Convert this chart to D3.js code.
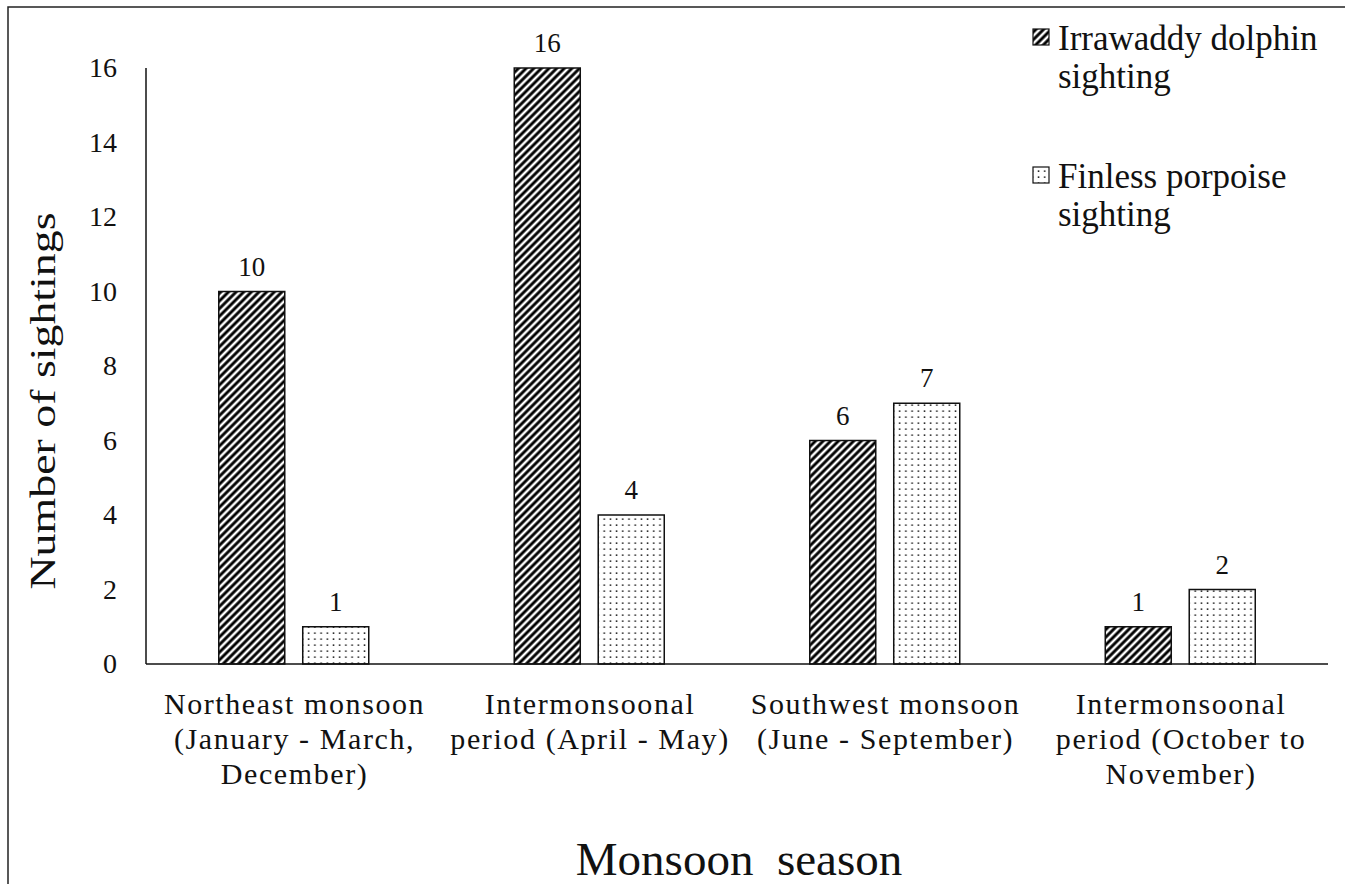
<!DOCTYPE html>
<html>
<head>
<meta charset="utf-8">
<script src="https://cdn.jsdelivr.net/npm/d3@7"></script>
<style>
body{margin:0;background:#fff}
svg{display:block}
svg text{font-family:"Liberation Serif",serif !important;fill:#111}
</style>
</head>
<body>
<svg id="chart" width="1345" height="884"></svg>
<script>
// data
const categories=[
  ["Northeast monsoon","(January - March,","December)"],
  ["Intermonsoonal","period (April - May)"],
  ["Southwest monsoon","(June - September)"],
  ["Intermonsoonal","period (October to","November)"]
]
const seriesNames=["Irrawaddy dolphin sighting","Finless porpoise sighting"]
const dolphin=[10,16,6,1]
const porpoise=[1,4,7,2]
const yTicks=[0,2,4,6,8,10,12,14,16]

const svg=d3.select("#chart")
const pL=146,pR=1328,pT=68,pB=664
const serif="Liberation Serif"

// frame of the original figure (only left & top edges visible)
svg.append("rect").attr("x",8).attr("y",7).attr("width",1400).attr("height",1000)
  .attr("fill","#fff").attr("stroke","#222").attr("stroke-width",1.5)

const defs=svg.append("defs")
const hatch=defs.append("pattern").attr("id","hatch")
  .attr("patternUnits","userSpaceOnUse").attr("width",5.4).attr("height",5.4)
  .attr("patternTransform","rotate(45)")
hatch.append("rect").attr("width",5.4).attr("height",5.4).attr("fill","#fff")
hatch.append("line").attr("x1",2.7).attr("x2",2.7).attr("y1",0).attr("y2",5.4)
  .attr("stroke","#000").attr("stroke-width",2.9)
const dots=defs.append("pattern").attr("id","dots")
  .attr("patternUnits","userSpaceOnUse").attr("width",6.2).attr("height",6)
dots.append("rect").attr("width",6.2).attr("height",6).attr("fill","#fff")
dots.append("rect").attr("x",2.4).attr("y",2.4).attr("width",1.5).attr("height",1.5).attr("fill","#111")
const fills=["url(#hatch)","url(#dots)"]

const x0=d3.scaleBand().domain(d3.range(categories.length)).range([pL,pR])
const x1=d3.scaleBand().domain([0,1]).range([0,150]).paddingInner(0.214)
const y=d3.scaleLinear().domain([0,16]).range([pB,pT])

const rows=categories.map((c,i)=>[dolphin[i],porpoise[i]])

// y axis: line + labels, no ticks
const yAxis=svg.append("g").attr("transform",`translate(${pL},0)`)
  .call(d3.axisLeft(y).tickValues(yTicks).tickSize(0).tickPadding(29))
yAxis.attr("font-family",serif).attr("font-size",28)
yAxis.select(".domain").attr("stroke","#111").attr("stroke-width",1.5).attr("d",`M0,${pT}V${pB}`)
yAxis.selectAll("text").attr("fill","#111")

// bars
const g=svg.append("g").selectAll("g").data(rows).join("g")
  .attr("transform",(d,i)=>`translate(${x0(i)+x0.bandwidth()/2-75},0)`)
g.selectAll("rect").data(d=>d).join("rect")
  .attr("x",(d,j)=>x1(j)).attr("width",x1.bandwidth())
  .attr("y",d=>y(d)).attr("height",d=>y(0)-y(d))
  .attr("fill",(d,j)=>fills[j]).attr("stroke","#111").attr("stroke-width",1.5)
g.selectAll("text").data(d=>d).join("text")
  .attr("x",(d,j)=>x1(j)+x1.bandwidth()/2).attr("y",d=>y(d)-16)
  .attr("text-anchor","middle").attr("font-family",serif).attr("font-size",27).text(d=>d)

// x baseline
svg.append("line").attr("x1",pL).attr("x2",pR).attr("y1",pB).attr("y2",pB)
  .attr("stroke","#111").attr("stroke-width",1.5)

// category labels
const cl=svg.append("g").selectAll("text").data(categories).join("text")
  .attr("text-anchor","middle").attr("font-family",serif).attr("font-size",30)
  .attr("letter-spacing",1.6)
cl.selectAll("tspan").data((d,i)=>d.map(s=>({s,i}))).join("tspan")
  .attr("x",d=>x0(d.i)+x0.bandwidth()/2+0.8)
  .attr("y",(d,k)=>714+k*35).text(d=>d.s)

// axis titles
svg.append("text").attr("x",(pL+pR)/2+2).attr("y",875).attr("text-anchor","middle")
  .attr("font-family",serif).attr("font-size",47).style("white-space","pre").text("Monsoon  season")
svg.append("text").attr("transform","translate(55,401) rotate(-90)").attr("text-anchor","middle")
  .attr("font-family",serif).attr("font-size",36).attr("textLength",377).attr("lengthAdjust","spacingAndGlyphs")
  .text("Number of sightings")

// legend
const legendY=[29,167]
const legendLines=[["Irrawaddy dolphin","sighting"],["Finless porpoise","sighting"]]
const lg=svg.append("g").selectAll("g").data(seriesNames).join("g")
lg.append("rect").attr("x",1033).attr("y",(d,i)=>legendY[i]).attr("width",16).attr("height",16)
  .attr("fill",(d,i)=>fills[i]).attr("stroke","#111").attr("stroke-width",1.2)
lg.append("text").attr("font-family",serif).attr("font-size",35).selectAll("tspan")
  .data((d,i)=>legendLines[i].map(s=>({s,i}))).join("tspan")
  .attr("x",1058).attr("y",(d,k)=>legendY[d.i]+21+k*38).text(d=>d.s)
</script>
</body>
</html>
